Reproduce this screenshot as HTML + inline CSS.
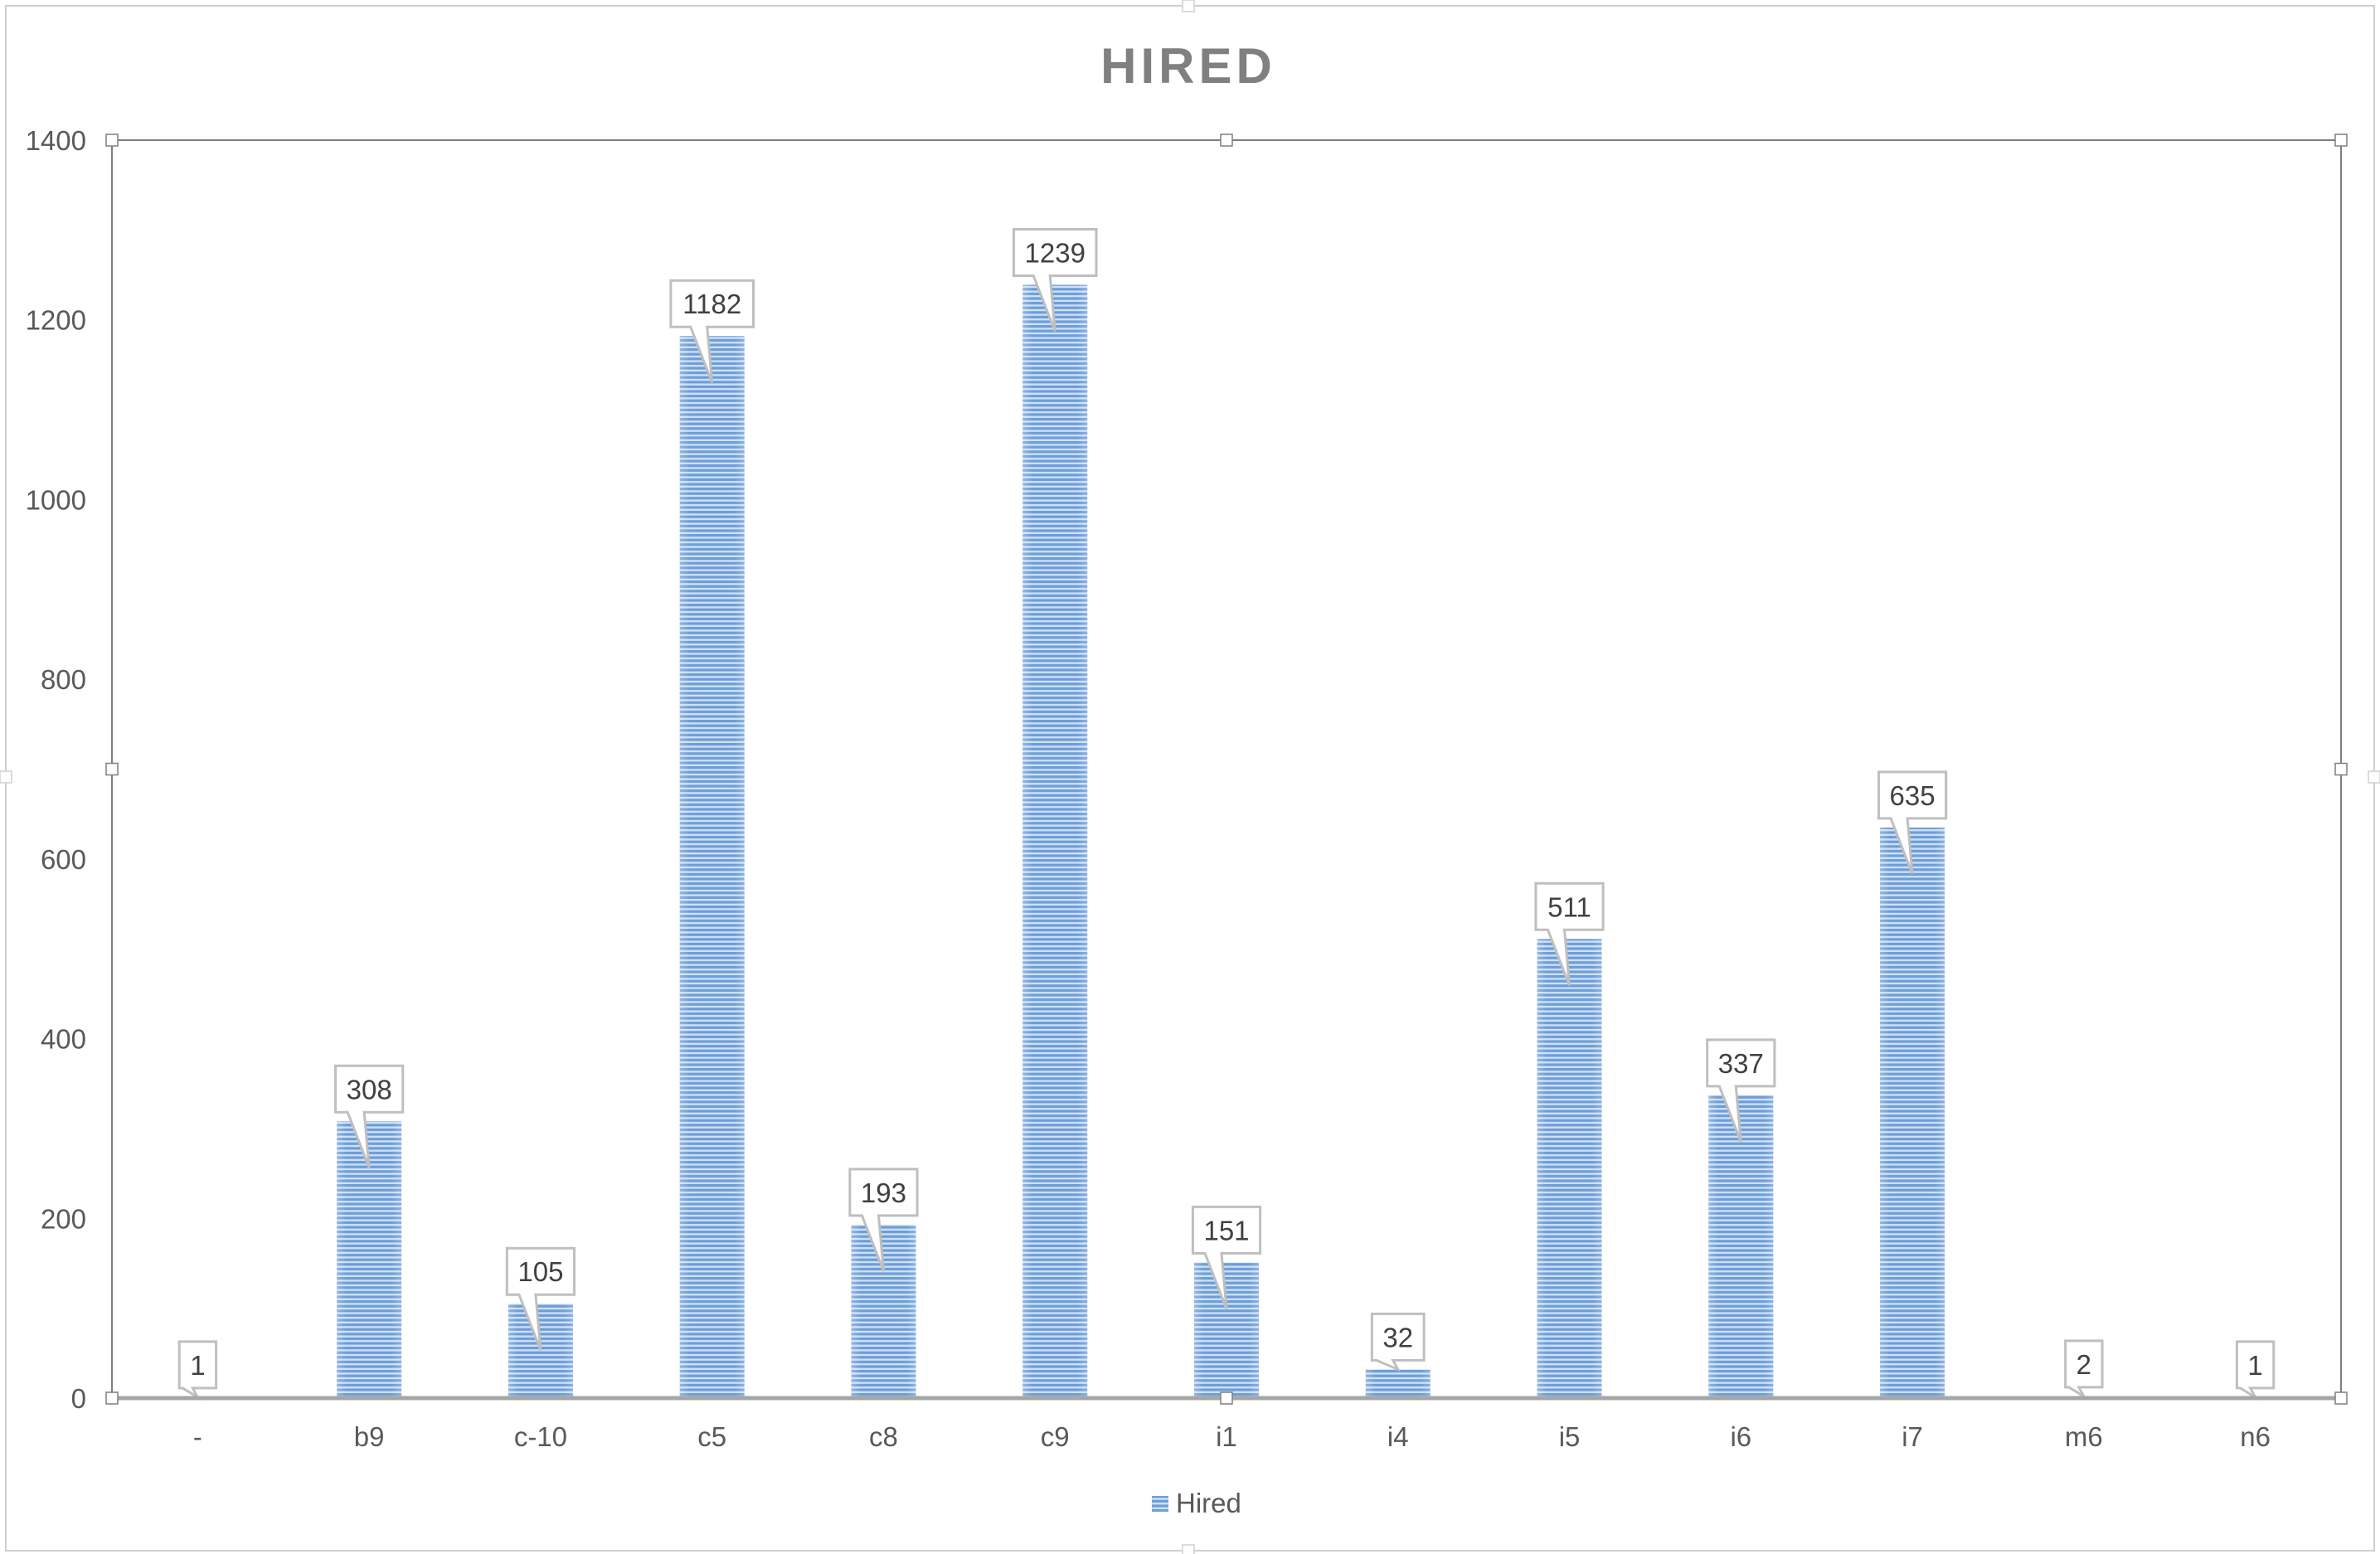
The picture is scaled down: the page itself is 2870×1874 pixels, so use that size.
<!DOCTYPE html>
<html><head><meta charset="utf-8"><style>
html,body{margin:0;padding:0;background:#fff;}
svg{display:block;}
text{font-family:"Liberation Sans",sans-serif;}
</style></head><body>
<svg id="chart" width="2870" height="1874" viewBox="0 0 2870 1874" xmlns="http://www.w3.org/2000/svg">
<defs>
<pattern id="stripes" patternUnits="userSpaceOnUse" width="10" height="5.6">
<rect width="10" height="5.6" fill="#cfdff2"/>
<rect width="10" height="3.2" fill="#6c9ed9"/>
</pattern>
<linearGradient id="edge" x1="0" x2="1" y1="0" y2="0">
<stop offset="0" stop-color="#ffffff" stop-opacity="0.25"/>
<stop offset="0.15" stop-color="#ffffff" stop-opacity="0"/>
<stop offset="0.85" stop-color="#ffffff" stop-opacity="0"/>
<stop offset="1" stop-color="#ffffff" stop-opacity="0.2"/>
</linearGradient>
</defs>
<rect x="7" y="7" width="2856" height="1863" fill="#fff" stroke="#d0d0d0" stroke-width="2"/>
<text x="1433" y="100" text-anchor="middle" font-size="60" font-weight="bold" fill="#808080" letter-spacing="5">HIRED</text>
<g id="grid"></g>
<g id="bars"></g>
<g id="labels"></g>
<g id="axes"></g>
<g>
<rect x="1389" y="1804" width="20" height="19" fill="url(#stripes)"/>
<text x="1418" y="1824" font-size="33" fill="#595959">Hired</text>
</g>
</svg>
<script>
const categories = ["-","b9","c-10","c5","c8","c9","i1","i4","i5","i6","i7","m6","n6"];
const hiredValues = [1,308,105,1182,193,1239,151,32,511,337,635,2,1];
const yTickValues = [0,200,400,600,800,1000,1200,1400];

const NS = "http://www.w3.org/2000/svg";
const L = 135, R = 2823, T = 169, B = 1686, YMAX = 1400;
const band = (R - L) / categories.length;
const xCenter = i => L + band * (i + 0.5);
const y = v => B - (v / YMAX) * (B - T);
function mk(tag, attrs, parent) {
  const e = document.createElementNS(NS, tag);
  for (const k in attrs) e.setAttribute(k, attrs[k]);
  parent.appendChild(e);
  return e;
}
const gAxes = document.getElementById("axes");
const gBars = document.getElementById("bars");
const gLab = document.getElementById("labels");

const frame = mk("rect", {x: L, y: T, width: R - L, height: B - T, fill: "none", stroke: "#7f7f7f", "stroke-width": 2}, gAxes);


const xAxis = mk("line", {x1: L, x2: R, y1: B, y2: B, stroke: "#a6a6a6", "stroke-width": 5}, gAxes);



yTickValues.forEach(v => {
  const t = mk("text", {x: 104, y: y(v) + 12, "text-anchor": "end", "font-size": 33, fill: "#595959"}, gAxes);
  t.textContent = v;
  
  
});

categories.forEach((c, i) => {
  const t = mk("text", {x: xCenter(i), y: 1744, "text-anchor": "middle", "font-size": 33, fill: "#595959"}, gAxes);
  t.textContent = c;
  
  
});

const bw = 78;
hiredValues.forEach((v, i) => {
  const cx = xCenter(i), top = y(v), h = B - top;
  const bar = mk("rect", {x: cx - bw / 2, y: top, width: bw, height: h, fill: "url(#stripes)"}, gBars);
  
  
  const ov = mk("rect", {x: cx - bw / 2, y: top, width: bw, height: h, fill: "url(#edge)"}, gBars);
  
  

  const txt = String(v);
  const w = txt.length * 18.4 + 26;
  const hB = 56;
  const bx = cx - w / 2, bb = top - 11, by = bb - hB;
  const tipY = h > 60 ? top + 56 : top;
  const p1 = cx - Math.min(26, w / 2 - 4), p2 = cx - 6;
  const d = `M${bx},${by} H${bx + w} V${bb} H${p2} L${cx},${tipY} L${p1},${bb} H${bx} Z`;
  const callout = mk("path", {d: d, fill: "#fff", stroke: "#bfbfbf", "stroke-width": 3, "stroke-linejoin": "miter"}, gLab);
  
  
  const t = mk("text", {x: cx, y: by + 40, "text-anchor": "middle", "font-size": 33, fill: "#404040"}, gLab);
  t.textContent = txt;
  
  
});

const handles = [[L,T],[(L+R)/2,T],[R,T],[L,(T+B)/2],[R,(T+B)/2],[L,B],[(L+R)/2,B],[R,B]];
handles.forEach(([hx, hy]) => {
  const r = mk("rect", {x: hx - 7, y: hy - 7, width: 14, height: 14, fill: "#fff", stroke: "#7f7f7f", "stroke-width": 1.5}, gAxes);
  
  
});
const outerHandles = [[1433,7],[1433,1870],[7,937],[2863,937]];
outerHandles.forEach(([hx, hy]) => {
  const r = mk("rect", {x: hx - 7, y: hy - 7, width: 14, height: 14, fill: "#fff", stroke: "#d0d0d0", "stroke-width": 1.5}, gAxes);
  
  
});
</script>
</body></html>
